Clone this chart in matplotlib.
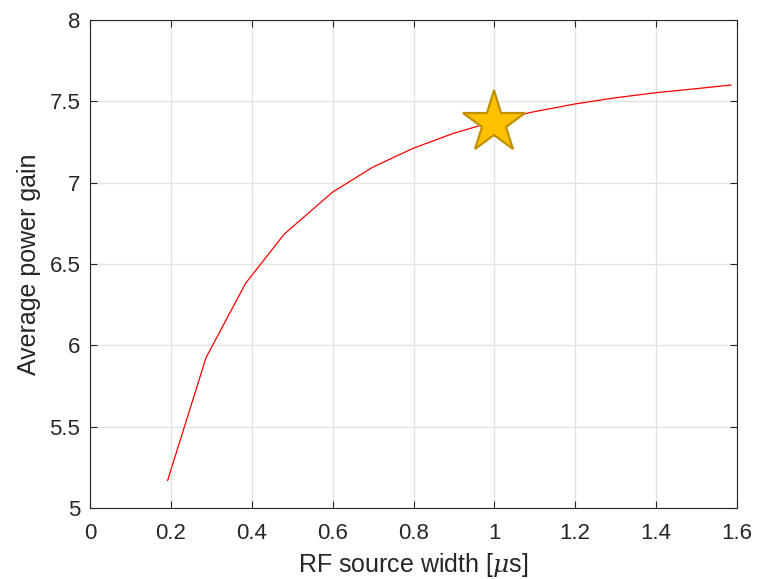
import matplotlib.pyplot as plt
import numpy as np

plt.rcParams['font.family'] = ['Liberation Sans Narrow', 'Liberation Sans', 'DejaVu Sans']
plt.rcParams['mathtext.fontset'] = 'custom'
plt.rcParams['mathtext.it'] = 'DejaVu Serif:italic'

# source width [us] vs average power gain
width = [0.192, 0.287, 0.385, 0.480, 0.600, 0.699, 0.798, 0.895, 0.99, 1.09, 1.2, 1.3, 1.4, 1.5, 1.585]
gain = [5.17, 5.925, 6.382, 6.683, 6.942, 7.095, 7.21, 7.30, 7.37, 7.432, 7.484, 7.522, 7.553, 7.578, 7.60]

star_x = [1.0]
star_y = [7.365]

fig = plt.figure(figsize=(7.59, 5.79), dpi=100)
ax = fig.add_axes([0.1186, 0.1226, 0.8524, 0.8429])

ax.plot(width, gain, color='red', lw=0.9)
ax.plot(star_x, star_y, marker='*', markersize=47, color='#FFC000',
        markeredgecolor='#C09000', markeredgewidth=1.6, ls='none')

ax.set_xlim(0, 1.6)
ax.set_ylim(5, 8)
ax.set_xticks(np.arange(0, 1.61, 0.2))
ax.set_xticklabels(['0', '0.2', '0.4', '0.6', '0.8', '1', '1.2', '1.4', '1.6'])
ax.set_yticks(np.arange(5, 8.01, 0.5))
ax.set_yticklabels(['5', '5.5', '6', '6.5', '7', '7.5', '8'])

ax.grid(True, color='#e3e3e3', lw=1.0)
ax.set_axisbelow(True)
ax.tick_params(direction='in', top=True, right=True, labelsize=16, length=5, width=0.8,
               colors='#262626', pad=7)
ax.tick_params(axis='x', pad=11)
for s in ax.spines.values():
    s.set_color('#262626')
    s.set_linewidth(0.8)

ax.set_xlabel(r'RF source width [$\mathit{\mu}$s]', fontsize=18, color='#262626', labelpad=5)
ax.set_ylabel('Average power gain', fontsize=18, color='#262626', labelpad=6)

fig.savefig('out.png', dpi=100)
